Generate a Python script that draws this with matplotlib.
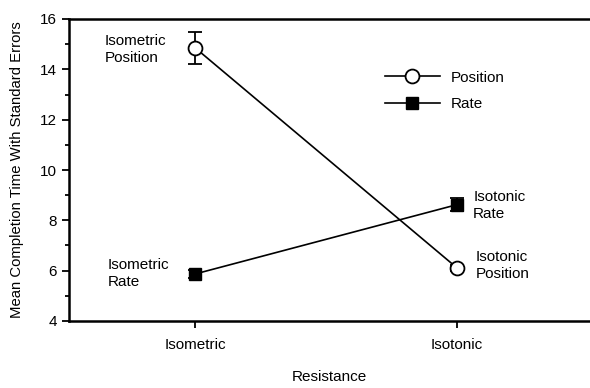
import matplotlib
matplotlib.use('Agg')
import matplotlib.pyplot as plt
from matplotlib.lines import Line2D
from matplotlib.ticker import MultipleLocator

plt.rcParams['font.family'] = ['Liberation Sans', 'DejaVu Sans']

# data
resistance = ['Isometric', 'Isotonic']
position_mean = [14.85, 6.12]
position_se = [0.62, 0.12]
rate_mean = [5.87, 8.62]
rate_se = [0.17, 0.25]

x = [1, 2]

fig = plt.figure(figsize=(5.9, 3.88), dpi=100)
ax = fig.add_axes([69 / 590, 67 / 388, 521 / 590, 302 / 388])

ax.errorbar(x, position_mean, yerr=position_se, color='black', lw=1.2,
            marker='o', ms=10, mfc='white', mec='black', mew=1.3,
            capsize=5, capthick=1.3, elinewidth=1.3, zorder=3)
ax.errorbar(x, rate_mean, yerr=rate_se, color='black', lw=1.2,
            marker='s', ms=8.5, mfc='black', mec='black',
            capsize=5, capthick=1.3, elinewidth=1.3, zorder=3)

ax.set_xlim(0.517, 2.51)
ax.set_ylim(4, 16)
ax.set_xticks(x)
ax.set_xticklabels(resistance)
ax.yaxis.set_major_locator(MultipleLocator(2))
ax.yaxis.set_minor_locator(MultipleLocator(1))
ax.tick_params(axis='both', which='major', direction='out', length=5, width=1.3,
               labelsize=11)
ax.tick_params(axis='y', which='minor', direction='out', length=3, width=1.3)
ax.tick_params(axis='x', pad=7)
for side in ['left', 'top', 'bottom']:
    ax.spines[side].set_linewidth(1.8)
ax.spines['right'].set_visible(False)

ax.set_ylabel('Mean Completion Time With Standard Errors', fontsize=10.7, labelpad=12)
ax.set_xlabel('Resistance', fontsize=11, labelpad=13)

ax.text(0.653, 14.8, 'Isometric\nPosition', fontsize=11, va='center', ha='left',
        linespacing=1.25)
ax.text(0.665, 5.9, 'Isometric\nRate', fontsize=11, va='center', ha='left',
        linespacing=1.25)
ax.text(2.063, 8.6, 'Isotonic\nRate', fontsize=11, va='center', ha='left',
        linespacing=1.25)
ax.text(2.073, 6.2, 'Isotonic\nPosition', fontsize=11, va='center', ha='left',
        linespacing=1.25)

handles = [
    Line2D([], [], color='black', lw=1.2, marker='o', ms=10, mfc='white',
           mec='black', mew=1.3),
    Line2D([], [], color='black', lw=1.2, marker='s', ms=8.5, mfc='black',
           mec='black'),
]
ax.legend(handles, ['Position', 'Rate'], loc='upper left',
          bbox_to_anchor=(0.58, 0.875), frameon=False, fontsize=11,
          handlelength=3.6, handletextpad=0.7, labelspacing=0.85)

fig.savefig('out.png', dpi=100)
